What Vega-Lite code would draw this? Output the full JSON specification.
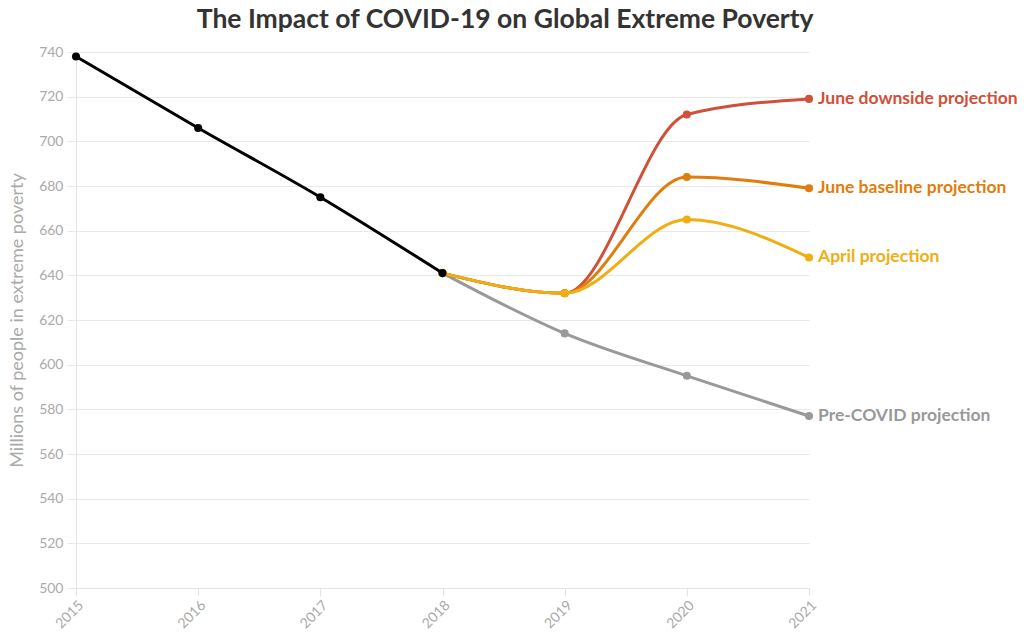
{
  "$schema": "https://vega.github.io/schema/vega-lite/v6.json",
  "width": 1031,
  "height": 633,
  "autosize": {"type": "fit", "contains": "padding"},
  "padding": {"left": 8, "top": 6, "right": 13, "bottom": 2},
  "background": "white",
  "title": {
    "text": "The Impact of COVID-19 on Global Extreme Poverty",
    "font": "Lato",
    "fontSize": 26.5,
    "fontWeight": "bold",
    "color": "#333333",
    "anchor": "middle",
    "frame": "bounds",
    "dx": -8,
    "offset": 12
  },
  "config": {
    "font": "Lato",
    "view": {"stroke": null},
    "axis": {
      "labelFont": "Lato",
      "titleFont": "Lato",
      "labelColor": "#aaaaaa",
      "titleColor": "#aaaaaa",
      "gridColor": "#e9e9e9",
      "domainColor": "#e3e3e3",
      "tickColor": "#e3e3e3"
    }
  },
  "data": {
    "values": [
      {"year": 2015, "value": 738, "series": "Historical"},
      {"year": 2016, "value": 706, "series": "Historical"},
      {"year": 2017, "value": 675, "series": "Historical"},
      {"year": 2018, "value": 641, "series": "Historical"},
      {"year": 2018, "value": 641, "series": "Pre-COVID projection"},
      {"year": 2019, "value": 614, "series": "Pre-COVID projection"},
      {"year": 2020, "value": 595, "series": "Pre-COVID projection"},
      {"year": 2021, "value": 577, "series": "Pre-COVID projection"},
      {"year": 2018, "value": 641, "series": "June downside projection"},
      {"year": 2019, "value": 632, "series": "June downside projection"},
      {"year": 2020, "value": 712, "series": "June downside projection"},
      {"year": 2021, "value": 719, "series": "June downside projection"},
      {"year": 2018, "value": 641, "series": "June baseline projection"},
      {"year": 2019, "value": 632, "series": "June baseline projection"},
      {"year": 2020, "value": 684, "series": "June baseline projection"},
      {"year": 2021, "value": 679, "series": "June baseline projection"},
      {"year": 2018, "value": 641, "series": "April projection"},
      {"year": 2019, "value": 632, "series": "April projection"},
      {"year": 2020, "value": 665, "series": "April projection"},
      {"year": 2021, "value": 648, "series": "April projection"}
    ]
  },
  "encoding": {
    "x": {
      "field": "year",
      "type": "quantitative",
      "scale": {"domain": [2015, 2021], "nice": false, "zero": false},
      "axis": {
        "title": null,
        "format": "d",
        "values": [2015, 2016, 2017, 2018, 2019, 2020, 2021],
        "labelAngle": -45,
        "labelFontSize": 14,
        "grid": false,
        "tickSize": 8,
        "labelPadding": 2
      }
    },
    "y": {
      "field": "value",
      "type": "quantitative",
      "scale": {"domain": [500, 740], "nice": false, "zero": false},
      "axis": {
        "title": "Millions of people in extreme poverty",
        "titleFontSize": 18,
        "titleFontWeight": "normal",
        "titlePadding": 12,
        "values": [500, 520, 540, 560, 580, 600, 620, 640, 660, 680, 700, 720, 740],
        "labelFontSize": 14,
        "tickSize": 9,
        "tickColor": "#e9e9e9",
        "labelPadding": 4
      }
    },
    "color": {
      "field": "series",
      "type": "nominal",
      "legend": null,
      "scale": {
        "domain": ["Historical", "Pre-COVID projection", "June downside projection", "June baseline projection", "April projection"],
        "range": ["#000000", "#999999", "#d05038", "#e07d0c", "#f0ae12"]
      }
    }
  },
  "layer": [
    {
      "transform": [{"filter": "datum.series == 'Pre-COVID projection'"}],
      "mark": {"type": "line", "interpolate": "monotone", "strokeWidth": 3, "point": {"filled": true, "size": 65}}
    },
    {
      "transform": [{"filter": "datum.series == 'June downside projection'"}],
      "mark": {"type": "line", "interpolate": "monotone", "strokeWidth": 3, "point": {"filled": true, "size": 65}}
    },
    {
      "transform": [{"filter": "datum.series == 'June baseline projection'"}],
      "mark": {"type": "line", "interpolate": "monotone", "strokeWidth": 3, "point": {"filled": true, "size": 65}}
    },
    {
      "transform": [{"filter": "datum.series == 'April projection'"}],
      "mark": {"type": "line", "interpolate": "monotone", "strokeWidth": 3, "point": {"filled": true, "size": 65}}
    },
    {
      "transform": [{"filter": "datum.series == 'Historical'"}],
      "mark": {"type": "line", "interpolate": "monotone", "strokeWidth": 3, "point": {"filled": true, "size": 65}}
    },
    {
      "transform": [{"filter": "datum.year == 2021 && datum.series != 'Historical'"}],
      "mark": {"type": "text", "align": "left", "baseline": "middle", "dx": 9, "fontSize": 17.5, "fontWeight": "bold", "font": "Lato"},
      "encoding": {"text": {"field": "series", "type": "nominal"}}
    }
  ]
}
